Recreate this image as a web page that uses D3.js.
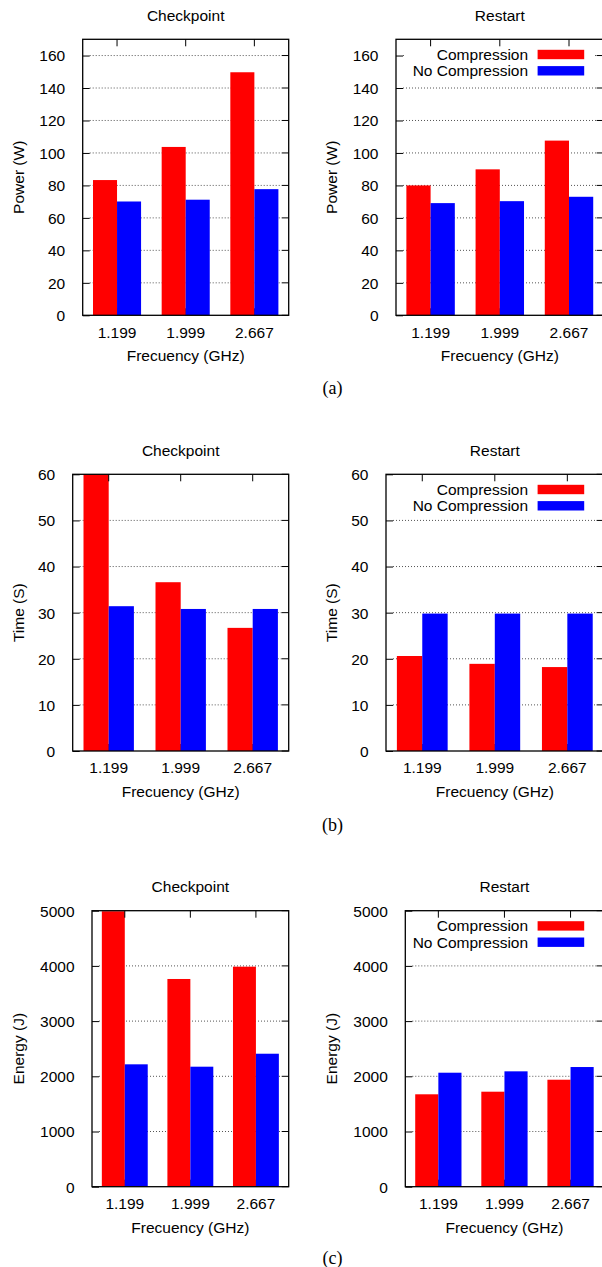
<!DOCTYPE html>
<html>
<head>
<meta charset="utf-8">
<script src="https://cdn.jsdelivr.net/npm/d3@7"></script>
<style>
  html, body { margin: 0; padding: 0; background: #fff; }
  svg { display: block; }
  text { font-family: "Liberation Sans", Arial, Helvetica, sans-serif; fill: #000; }
</style>
</head>
<body>
<svg id="chart" width="602" height="1267"></svg>
<script>
// ---------- data ----------
const frequencies = ["1.199", "1.999", "2.667"];
const seriesNames = ["Compression", "No Compression"];
const seriesColors = ["#ff0000", "#0000ff"];

const powerCheckpointCompression   = [83.3, 103.7, 149.7];
const powerCheckpointNoCompression = [70.1, 71.2, 77.7];
const powerRestartCompression      = [80.0, 89.9, 107.6];
const powerRestartNoCompression    = [69.1, 70.3, 73.0];

const timeCheckpointCompression    = [60, 36.6, 26.7];
const timeCheckpointNoCompression  = [31.4, 30.8, 30.8];
const timeRestartCompression       = [20.6, 18.9, 18.2];
const timeRestartNoCompression     = [29.8, 29.8, 29.8];

const energyCheckpointCompression   = [4990, 3763, 3986];
const energyCheckpointNoCompression = [2217, 2174, 2409];
const energyRestartCompression      = [1674, 1721, 1938];
const energyRestartNoCompression    = [2065, 2090, 2168];

const powerTicks  = [0, 20, 40, 60, 80, 100, 120, 140, 160];
const timeTicks   = [0, 10, 20, 30, 40, 50, 60];
const energyTicks = [0, 1000, 2000, 3000, 4000, 5000];

const rowLabels = ["(a)", "(b)", "(c)"];
const panelTitles = ["Checkpoint", "Restart"];
const xAxisTitle = "Frecuency (GHz)";

// ---------- layout ----------
const rows = [
  { yTitle: "Power (W)", domain: [0, 170], ticks: powerTicks, top: 39.3, bottom: 315.3,
    lefts: [82.7, 396], rights: [288.7, 603.6], letterY: 388,
    series: [[powerCheckpointCompression, powerCheckpointNoCompression],
             [powerRestartCompression, powerRestartNoCompression]] },
  { yTitle: "Time (S)", domain: [0, 60], ticks: timeTicks, top: 474.3, bottom: 751,
    lefts: [72.7, 386], rights: [288.7, 603.6], letterY: 825,
    series: [[timeCheckpointCompression, timeCheckpointNoCompression],
             [timeRestartCompression, timeRestartNoCompression]] },
  { yTitle: "Energy (J)", domain: [0, 5000], ticks: energyTicks, top: 910.7, bottom: 1186.7,
    lefts: [92, 405.3], rights: [288.7, 603.6], letterY: 1258,
    series: [[energyCheckpointCompression, energyCheckpointNoCompression],
             [energyRestartCompression, energyRestartNoCompression]] }
];

const svg = d3.select("#chart");
const FS = 15.5;
const TICK = 7;

rows.forEach((row, ri) => {
  [0, 1].forEach(pi => {
    const L = row.lefts[pi], R = row.rights[pi], T = row.top, B = row.bottom;
    const g = svg.append("g");
    const y = d3.scaleLinear().domain(row.domain).range([B, T]);
    const x = d3.scaleBand().domain(frequencies).range([L, R]).paddingInner(0.3).paddingOuter(0.15);
    const xs = d3.scaleBand().domain(seriesNames).range([0, x.bandwidth()]);
    const center = f => x(f) + x.bandwidth() / 2;

    const clipId = `clip-${ri}-${pi}`;
    svg.append("clipPath").attr("id", clipId)
      .append("rect").attr("x", L).attr("y", T).attr("width", R - L).attr("height", B - T);

    // gridlines
    g.append("g").selectAll("line")
      .data(row.ticks.filter(t => t > row.domain[0] && y(t) > T + 0.5))
      .join("line")
      .attr("x1", L + TICK).attr("x2", R - TICK)
      .attr("y1", d => y(d)).attr("y2", d => y(d))
      .attr("stroke", "#555").attr("stroke-width", 1)
      .attr("stroke-dasharray", "1,2");

    // bottom x ticks (under bars)
    g.append("g").selectAll("line").data(frequencies).join("line")
      .attr("x1", d => center(d)).attr("x2", d => center(d))
      .attr("y1", B).attr("y2", B - TICK)
      .attr("stroke", "#000").attr("stroke-width", 1);

    // bars
    const bars = g.append("g").attr("clip-path", `url(#${clipId})`);
    seriesNames.forEach((s, si) => {
      bars.append("g").selectAll("rect")
        .data(frequencies.map((f, i) => ({ f, v: row.series[pi][si][i] })))
        .join("rect")
        .attr("x", d => x(d.f) + xs(s))
        .attr("width", xs.bandwidth())
        .attr("y", d => y(d.v))
        .attr("height", d => B - y(d.v))
        .attr("fill", seriesColors[si]);
    });

    // legend (right panel only)
    if (pi === 1) {
      const rowY = [T + 15.2, T + 31.5];
      g.append("rect")
        .attr("x", L + TICK + 1).attr("y", rowY[0] - 8.5)
        .attr("width", (R - TICK - 2) - (L + TICK + 1)).attr("height", rowY[1] - rowY[0] + 17)
        .attr("fill", "#fff");
      seriesNames.forEach((s, si) => {
        g.append("text")
          .attr("x", R - 75.5).attr("y", rowY[si])
          .attr("text-anchor", "end").attr("dominant-baseline", "central")
          .attr("font-size", FS).text(s);
        g.append("rect")
          .attr("x", R - 66).attr("y", rowY[si] - 4.7)
          .attr("width", 46.6).attr("height", 9.4)
          .attr("fill", seriesColors[si]);
      });
    }

    // y ticks left & right, top x ticks
    const yAxisL = d3.axisLeft(y).tickValues(row.ticks).tickSize(-TICK).tickPadding(10.5 + TICK).tickFormat(d3.format("d"));
    const gl = g.append("g").attr("transform", `translate(${L},0)`).call(yAxisL);
    gl.select(".domain").remove();
    gl.selectAll(".tick line").attr("stroke", "#000").attr("stroke-width", 1);
    gl.selectAll(".tick text").attr("font-size", FS).attr("font-family", null).attr("dy", "0.35em");

    g.append("g").selectAll("line").data(row.ticks).join("line")
      .attr("x1", R).attr("x2", R - TICK)
      .attr("y1", d => y(d)).attr("y2", d => y(d))
      .attr("stroke", "#000").attr("stroke-width", 1);

    g.append("g").selectAll("line").data(frequencies).join("line")
      .attr("x1", d => center(d)).attr("x2", d => center(d))
      .attr("y1", T).attr("y2", T + TICK)
      .attr("stroke", "#000").attr("stroke-width", 1);

    // border
    g.append("rect").attr("x", L).attr("y", T).attr("width", R - L).attr("height", B - T)
      .attr("fill", "none").attr("stroke", "#000").attr("stroke-width", 1.3);

    // x tick labels
    const xAxisB = d3.axisBottom(x).tickSize(0).tickPadding(0);
    const gb = g.append("g").attr("transform", `translate(0,${B})`).call(xAxisB);
    gb.select(".domain").remove();
    gb.selectAll(".tick line").remove();
    gb.selectAll(".tick text").attr("font-size", FS).attr("font-family", null)
      .attr("y", 16.8).attr("dy", "0.35em");

    // axis titles
    g.append("text").attr("x", (L + R) / 2).attr("y", B + 40.3)
      .attr("text-anchor", "middle").attr("dominant-baseline", "central")
      .attr("font-size", FS).text(xAxisTitle);
    const ylx = pi === 0 ? 18.3 : 331.7;
    g.append("text").attr("transform", `translate(${ylx},${(T + B) / 2}) rotate(-90)`)
      .attr("text-anchor", "middle").attr("dominant-baseline", "central")
      .attr("font-size", FS).text(row.yTitle);

    // panel title
    g.append("text").attr("x", (L + R) / 2).attr("y", T - 24.3)
      .attr("text-anchor", "middle").attr("dominant-baseline", "central")
      .attr("font-size", FS).text(panelTitles[pi]);
  });

  svg.append("text").attr("x", 332.5).attr("y", row.letterY)
    .attr("text-anchor", "middle").attr("dominant-baseline", "central")
    .style("font-family", "'Liberation Serif', 'Times New Roman', serif")
    .attr("font-size", 18).text(rowLabels[ri]);
});
</script>
</body>
</html>
